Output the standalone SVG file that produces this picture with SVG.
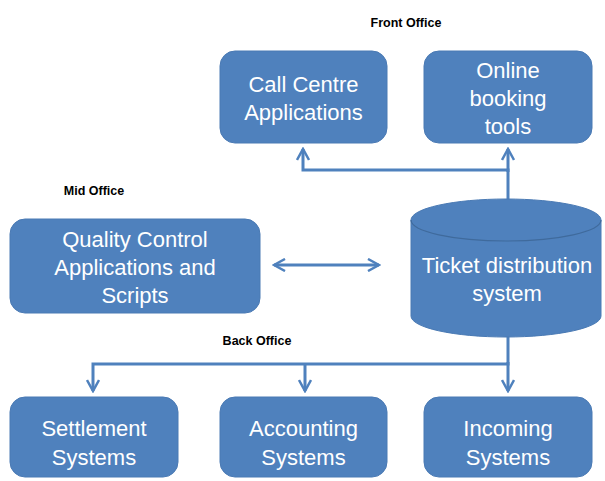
<svg xmlns="http://www.w3.org/2000/svg" width="605" height="481" viewBox="0 0 605 481">
<defs>
<style>
.box{fill:#4F81BD;stroke:#4A7AB4;stroke-width:1}
.t{font-family:"Liberation Sans",Arial,sans-serif;font-size:22px;fill:#FFFFFF;text-anchor:middle}
.h{font-family:"Liberation Sans",Arial,sans-serif;font-size:12.5px;font-weight:bold;fill:#000;text-anchor:middle}
.c{fill:none;stroke:#4F81BD;stroke-width:3}
</style>
<marker id="ah" viewBox="0 0 14 14" refX="12" refY="7" markerWidth="14" markerHeight="14" markerUnits="userSpaceOnUse" orient="auto-start-reverse">
<path d="M1,1 L12,7 L1,13" fill="none" stroke="#4F81BD" stroke-width="2.5"/>
</marker>
</defs>
<rect width="605" height="481" fill="#FFFFFF"/>
<text class="h" x="406" y="27">Front Office</text>
<text class="h" x="94" y="195">Mid Office</text>
<text class="h" x="257" y="345">Back Office</text>
<g id="connectors">
<path class="c" d="M508,200 V170 H303 V149" marker-end="url(#ah)"/>
<path class="c" d="M508,172 V149" marker-end="url(#ah)"/>
<path class="c" d="M274,265 H379" marker-start="url(#ah)" marker-end="url(#ah)"/>
<path class="c" d="M508,337 V364 H93 V391" marker-end="url(#ah)"/>
<path class="c" d="M305,364 V391" marker-end="url(#ah)"/>
<path class="c" d="M508,362 V391" marker-end="url(#ah)"/>
</g>
<g id="call-centre">
<rect class="box" x="220" y="51" width="167" height="92" rx="15"/>
<text class="t" x="303.5" y="92">Call Centre</text>
<text class="t" x="303.5" y="120">Applications</text>
</g>
<g id="online-booking">
<rect class="box" x="424" y="51" width="168" height="92" rx="15"/>
<text class="t" x="508" y="78">Online</text>
<text class="t" x="508" y="106">booking</text>
<text class="t" x="508" y="134">tools</text>
</g>
<g id="quality-control">
<rect class="box" x="10" y="219" width="250" height="94" rx="15"/>
<text class="t" x="135" y="247">Quality Control</text>
<text class="t" x="135" y="275">Applications and</text>
<text class="t" x="135" y="303">Scripts</text>
</g>
<g id="ticket-distribution">
<path class="box" d="M411,220 V316 A95,21 0 0 0 601,316 V220 A95,21 0 0 0 411,220 Z"/>
<path d="M411,220 A95,21 0 0 0 601,220" fill="none" stroke="#3F6A9C" stroke-width="1.2"/>
<text class="t" x="507" y="273">Ticket distribution</text>
<text class="t" x="507" y="301">system</text>
</g>
<g id="settlement">
<rect class="box" x="10" y="397" width="168" height="80" rx="15"/>
<text class="t" x="94" y="436">Settlement</text>
<text class="t" x="94" y="465">Systems</text>
</g>
<g id="accounting">
<rect class="box" x="220" y="397" width="167" height="80" rx="15"/>
<text class="t" x="303.5" y="436">Accounting</text>
<text class="t" x="303.5" y="465">Systems</text>
</g>
<g id="incoming">
<rect class="box" x="424" y="397" width="168" height="80" rx="15"/>
<text class="t" x="508" y="436">Incoming</text>
<text class="t" x="508" y="465">Systems</text>
</g>
</svg>
